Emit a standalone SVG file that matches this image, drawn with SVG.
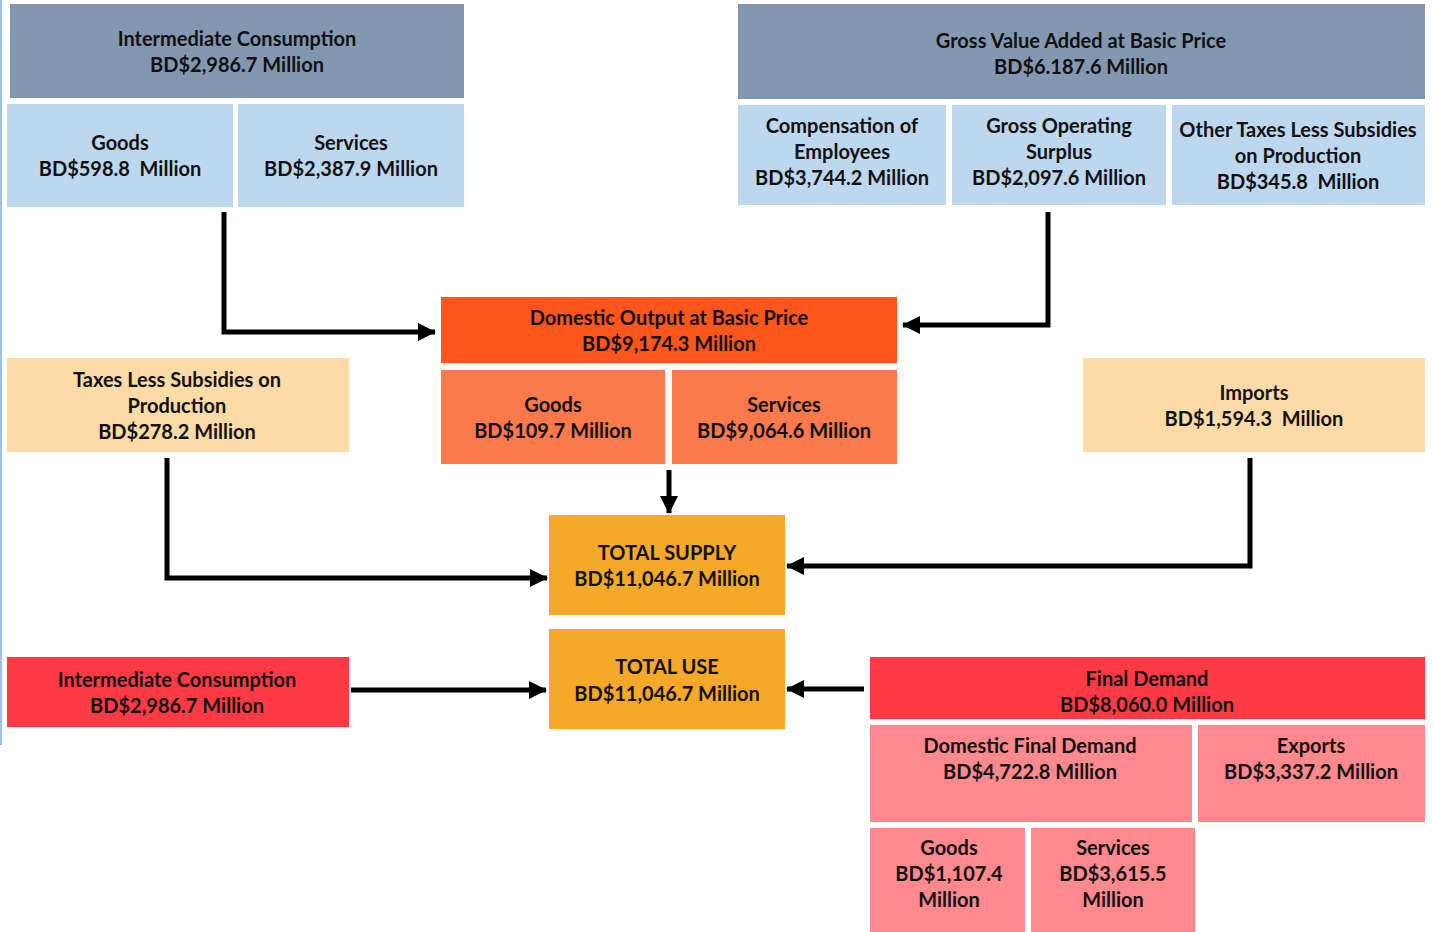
<svg xmlns="http://www.w3.org/2000/svg" width="1433" height="932" viewBox="0 0 1433 932">
<style>
text{font-family:Lato,"Liberation Sans",Arial,sans-serif;font-weight:bold;font-size:20px;fill:#111;text-anchor:middle}
.slate{fill:#8497B0}
.lblue{fill:#BDD7EE}
.orng{fill:#FD561C}
.lorng{fill:#FC794B}
.peach{fill:#FCDBA6}
.gold{fill:#F6A828}
.red{fill:#FF3A45}
.pink{fill:#FF898D}
.conn{fill:none;stroke:#000;stroke-width:5;stroke-linejoin:miter}
</style>
<defs>
<marker id="ah" markerWidth="20" markerHeight="18" refX="17" refY="9" orient="auto" markerUnits="userSpaceOnUse">
<path d="M0,0 L18,9 L0,18 Z" fill="#000"/>
</marker>
</defs>
<rect width="1433" height="932" fill="#fff"/>
<line x1="1" y1="0" x2="1" y2="745" stroke="#9DC3EC" stroke-width="2"/>

<g id="ic-top">
<rect class="slate" x="10" y="4" width="454" height="94"/>
<text x="237" y="46">Intermediate Consumption</text>
<text x="237" y="72">BD$2,986.7 Million</text>
</g>
<g id="ic-goods">
<rect class="lblue" x="7" y="104" width="226" height="103"/>
<text x="120" y="150">Goods</text>
<text x="120" y="176" xml:space="preserve">BD$598.8  Million</text>
</g>
<g id="ic-services">
<rect class="lblue" x="238" y="104" width="226" height="103"/>
<text x="351" y="150">Services</text>
<text x="351" y="176">BD$2,387.9 Million</text>
</g>

<g id="gva">
<rect class="slate" x="738" y="4" width="687" height="95"/>
<text x="1081" y="48">Gross Value Added at Basic Price</text>
<text x="1081" y="74">BD$6.187.6 Million</text>
</g>
<g id="comp">
<rect class="lblue" x="738" y="105" width="208" height="100"/>
<text x="842" y="133">Compensation of</text>
<text x="842" y="159">Employees</text>
<text x="842" y="185">BD$3,744.2 Million</text>
</g>
<g id="gos">
<rect class="lblue" x="952" y="105" width="214" height="100"/>
<text x="1059" y="133">Gross Operating</text>
<text x="1059" y="159">Surplus</text>
<text x="1059" y="185">BD$2,097.6 Million</text>
</g>
<g id="othertax">
<rect class="lblue" x="1172" y="105" width="253" height="100"/>
<text x="1298" y="137">Other Taxes Less Subsidies</text>
<text x="1298" y="163">on Production</text>
<text x="1298" y="189" xml:space="preserve">BD$345.8  Million</text>
</g>

<g id="domout">
<rect class="orng" x="441" y="297" width="456" height="66"/>
<text x="669" y="325">Domestic Output at Basic Price</text>
<text x="669" y="351">BD$9,174.3 Million</text>
</g>
<g id="do-goods">
<rect class="lorng" x="441" y="370" width="224" height="94"/>
<text x="553" y="412">Goods</text>
<text x="553" y="438">BD$109.7 Million</text>
</g>
<g id="do-services">
<rect class="lorng" x="672" y="370" width="225" height="94"/>
<text x="784" y="412">Services</text>
<text x="784" y="438">BD$9,064.6 Million</text>
</g>

<g id="taxes">
<rect class="peach" x="7" y="358" width="342" height="94"/>
<text x="177" y="387">Taxes Less Subsidies on</text>
<text x="177" y="413">Production</text>
<text x="177" y="439">BD$278.2 Million</text>
</g>
<g id="imports">
<rect class="peach" x="1083" y="358" width="342" height="94"/>
<text x="1254" y="400">Imports</text>
<text x="1254" y="426" xml:space="preserve">BD$1,594.3  Million</text>
</g>

<g id="supply">
<rect class="gold" x="549" y="515" width="236" height="100"/>
<text x="667" y="560">TOTAL SUPPLY</text>
<text x="667" y="586">BD$11,046.7 Million</text>
</g>
<g id="use">
<rect class="gold" x="549" y="629" width="236" height="100"/>
<text x="667" y="674">TOTAL USE</text>
<text x="667" y="701">BD$11,046.7 Million</text>
</g>

<g id="ic-use">
<rect class="red" x="7" y="657" width="342" height="70"/>
<text x="177" y="687">Intermediate Consumption</text>
<text x="177" y="713">BD$2,986.7 Million</text>
</g>
<g id="final">
<rect class="red" x="870" y="657" width="555" height="62"/>
<text x="1147" y="686">Final Demand</text>
<text x="1147" y="712">BD$8,060.0 Million</text>
</g>
<g id="dfd">
<rect class="pink" x="870" y="725" width="322" height="97"/>
<text x="1030" y="753">Domestic Final Demand</text>
<text x="1030" y="779">BD$4,722.8 Million</text>
</g>
<g id="exports">
<rect class="pink" x="1198" y="725" width="227" height="97"/>
<text x="1311" y="753">Exports</text>
<text x="1311" y="779">BD$3,337.2 Million</text>
</g>
<g id="fd-goods">
<rect class="pink" x="870" y="828" width="155" height="104"/>
<text x="949" y="855">Goods</text>
<text x="949" y="881">BD$1,107.4</text>
<text x="949" y="907">Million</text>
</g>
<g id="fd-services">
<rect class="pink" x="1031" y="828" width="164" height="104"/>
<text x="1113" y="855">Services</text>
<text x="1113" y="881">BD$3,615.5</text>
<text x="1113" y="907">Million</text>
</g>

<g id="connectors">
<polyline class="conn" points="224,212 224,332 435,332" marker-end="url(#ah)"/>
<polyline class="conn" points="1048,212 1048,325 903,325" marker-end="url(#ah)"/>
<polyline class="conn" points="669,470 669,513" marker-end="url(#ah)"/>
<polyline class="conn" points="167,458 167,578 547,578" marker-end="url(#ah)"/>
<polyline class="conn" points="1250,458 1250,566 787,566" marker-end="url(#ah)"/>
<polyline class="conn" points="351,690 546,690" marker-end="url(#ah)"/>
<polyline class="conn" points="864,689 787,689" marker-end="url(#ah)"/>
</g>
</svg>
